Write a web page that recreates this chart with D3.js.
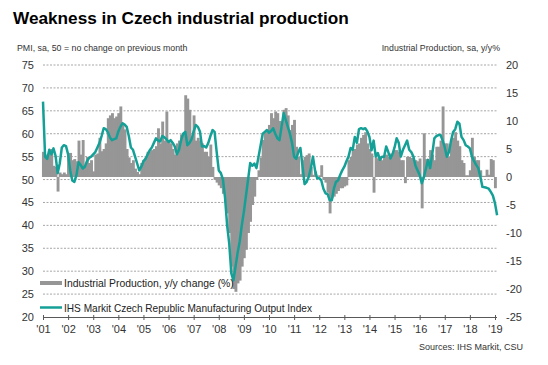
<!DOCTYPE html>
<html><head><meta charset="utf-8">
<script src="https://cdn.jsdelivr.net/npm/d3@7"></script>
<style>
body{margin:0;background:#fff;}
svg{display:block;font-family:"Liberation Sans",Arial,sans-serif;}
</style></head>
<body><svg id="c" width="548" height="365"></svg>
<script>
// ---- data (monthly, Jan 2001 onwards) ----
const tickLabels = ["'01","'02","'03","'04","'05","'06","'07","'08","'09","'10","'11","'12","'13","'14","'15","'16","'17","'18","'19"];
const leftTicks = [20,25,30,35,40,45,50,55,60,65,70,75];
const rightTicks = [-25,-20,-15,-10,-5,0,5,10,15,20];

// IHS Markit Czech Republic Manufacturing Output Index
const pmiOutput = [
  67,55,54.5,56.5,55.5,56.8,55.2,51.4,53.5,57,57.5,57.3,          // 2001
  55.5,52,49.8,49.5,51,53.8,53.2,52.4,52.8,54,54.7,55,            // 2002
  55.5,56,57,58,59.5,61.2,61,60.3,59.2,58.6,58.8,59,              // 2003
  60.5,61.5,62.3,62,61.5,59.5,57,56.5,55,53.5,52,52.8,            // 2004
  54,54.5,55.5,56.4,57,58,59,58.5,58.3,59.5,59.2,58.8,            // 2005
  58.2,58.6,58,57.2,55.5,56.5,58.6,60,60.4,57.5,58,58.8,          // 2006
  60.5,61.9,61.5,60.5,57.2,57.3,57,58,59.5,60.8,60.4,56,          // 2007
  52,51.4,50,46,40,36,29.5,28,31,34,36.5,40,                      // 2008
  43,46.5,50,53.6,53,53.5,52.5,55,57.5,60,60.4,60.8,              // 2009
  60.2,60.6,61.2,60,59,58.6,61.5,64.5,63,61.5,60,58,              // 2010
  55,54.5,56,56.9,53,49,49.5,50.6,52.5,55,52,50.3,                // 2011
  50.3,49.8,48,47,46.8,45.5,45.5,48,49.5,49.8,51,52,              // 2012
  52.8,54,55,56.9,56.5,59.3,58,61,61.2,61,61.2,60.5,              // 2013
  59.3,56.4,58.5,55,55.8,54.3,55,55,57.2,56,54.6,55.5,            // 2014
  57,59,58,55,56.5,57.5,58.5,56.5,56,55,53,52,                    // 2015
  51,49.2,50.5,52.4,54.3,52.5,55.5,59,59.5,59.7,59.7,58.5,        // 2016
  57,55,56,58.5,60.4,61,62.6,62.2,59.3,58.6,57.5,57.2,            // 2017
  56.8,55,54,53.2,52.5,50.6,48.4,48.3,48.2,48,47.3,46.5,          // 2018
  44.8,42.2                                                       // 2019
];

// Industrial Production, y/y change (%)
const industrialProduction = [
  4.5,4,3.6,4.5,5,2,1.8,-2.6,0.8,0.5,0.8,0.5,                     // 2001
  4.3,4.3,3,3.2,2.8,6.5,4,6.6,2,3.6,2.5,3,                        // 2002
  1,4,4.2,7,4.6,5,6,10.5,11,11.4,10.5,10.8,                       // 2003
  11.4,12.6,9.5,8.5,5,3.5,2.5,3,1.5,0.9,0.5,2.5,                  // 2004
  3,3.5,4.5,4.6,4.8,5,5.5,8.7,6,9.9,6.5,11.7,                     // 2005
  6.3,6,5,4,6,6.5,7.6,7.5,14.6,14,12,7,                           // 2006
  11,6.5,7,6.5,6,4.5,4.5,3.6,5.8,1.8,-0.5,-1,                     // 2007
  -1.5,-2,-3,-4.5,-6.5,-10,-16,-20,-20.5,-19,-18.5,-16,           // 2008
  -14.5,-13,-10,-8,-5,-3.5,-0.5,1.2,3.5,6.6,8,8.4,                // 2009
  9.3,11.4,10.5,11.7,11.4,10,9,12,12.3,11,8.4,9.3,                // 2010
  10.2,5.4,3.6,0.5,3,3.6,3.9,4.2,1.8,0.4,1,0,                     // 2011
  0.3,2.1,-0.5,-1,-2.8,-6.5,-3.8,-3.5,-3,-2.5,-2,-2,              // 2012
  -1.7,-1.5,3,3.6,4.8,5,5.8,6,7,7.5,8,6,                          // 2013
  5,4.2,-2.8,3.5,3.3,3.6,3,3.8,4,3.6,4.2,4,                       // 2014
  4.8,4.8,4.5,3,3,-1.1,3.6,3.6,3.4,3,3,2.8,                       // 2015
  3.3,-5.6,7.8,3.2,3,4.8,4,3,5.4,5.4,6.5,12.6,                    // 2016
  6,6,3.6,6.5,7,8,6.5,5.5,3,2.5,0.3,0.3,                          // 2017
  1.2,7,3.6,3,3,1.2,0.2,0.2,1.3,0.4,3.2,3,                        // 2018
  -2                                                              // 2019
];

// ---- chart ----
const svg = d3.select("#c");
const X0 = 43, X1 = 495, GRIDR = 497, YT = 65, YB = 317;
const x = d3.scaleLinear().domain([0, 216]).range([X0, X1]);
const yL = d3.scaleLinear().domain([20, 75]).range([YB, YT]);
const yR = d3.scaleLinear().domain([-25, 20]).range([YB, YT]);
const bw = x(1) - x(0);

// title & subtitles
svg.append("text").attr("x", 13).attr("y", 24).attr("font-size", 17.2).attr("font-weight", "bold")
  .attr("fill", "#000").text("Weakness in Czech industrial production");
svg.append("text").attr("x", 17).attr("y", 51).attr("font-size", 8.8).attr("fill", "#333")
  .text("PMI,  sa, 50 = no change on previous month");
svg.append("text").attr("x", 500).attr("y", 51).attr("font-size", 8.8).attr("fill", "#333")
  .attr("text-anchor", "end").text("Industrial Production,  sa,  y/y%");

// gridlines
svg.append("g").selectAll("line").data(leftTicks.filter(d => d > 20)).join("line")
  .attr("x1", X0).attr("x2", GRIDR).attr("y1", d => yL(d)).attr("y2", d => yL(d))
  .attr("stroke", "#a6a6a6").attr("stroke-width", 1).attr("stroke-dasharray", "2,1.5");

// bars
svg.append("g").selectAll("rect").data(industrialProduction).join("rect")
  .attr("x", (d, i) => x(i) - bw / 2)
  .attr("width", bw + 0.8)
  .attr("y", d => Math.min(yR(d), yR(0)))
  .attr("height", d => Math.abs(yR(d) - yR(0)))
  .attr("fill", "#969696");

// line
svg.append("path").datum(pmiOutput)
  .attr("d", d3.line().x((d, i) => x(i)).y(d => yL(d)))
  .attr("fill", "none").attr("stroke", "#14a096").attr("stroke-width", 2.5)
  .attr("stroke-linejoin", "round");

// x axis
const xAxis = d3.axisBottom(x).tickValues(d3.range(0, 217, 12)).tickFormat((d, i) => tickLabels[i])
  .tickSizeInner(3).tickSizeOuter(0).tickPadding(5);
const gx = svg.append("g").attr("transform", `translate(0,${YB})`).call(xAxis);
gx.select(".domain").attr("d", `M${X0},0.5H${GRIDR}`).attr("stroke", "#595959");
gx.selectAll(".tick line").attr("stroke", "#595959").attr("y1", -2).attr("y2", 3);
gx.selectAll(".tick text").attr("font-size", 11).attr("fill", "#333").attr("font-family", "Liberation Sans, Arial, sans-serif");

// left axis
const gl = svg.append("g").attr("transform", `translate(${X0 - 9},0)`)
  .call(d3.axisLeft(yL).tickValues(leftTicks).tickSize(0).tickPadding(0));
gl.select(".domain").remove();
gl.selectAll("text").attr("font-size", 11).attr("fill", "#333").attr("font-family", "Liberation Sans, Arial, sans-serif");

// right axis
const gr = svg.append("g").attr("transform", `translate(506,0)`)
  .call(d3.axisRight(yR).tickValues(rightTicks).tickSize(0).tickPadding(0).tickFormat(d3.format("d")));
gr.select(".domain").remove();
gr.selectAll("text").attr("font-size", 11).attr("fill", "#333").attr("font-family", "Liberation Sans, Arial, sans-serif")
  .text(d => d < 0 ? "-" + Math.abs(d) : d);

// legend
const lg = svg.append("g");
lg.append("rect").attr("x", 40).attr("y", 281).attr("width", 22).attr("height", 4).attr("fill", "#969696");
lg.append("text").attr("x", 64).attr("y", 287).attr("font-size", 10.4).attr("fill", "#222")
  .text("Industrial Production, y/y change (%)");
lg.append("line").attr("x1", 40).attr("x2", 62).attr("y1", 307.5).attr("y2", 307.5)
  .attr("stroke", "#14a096").attr("stroke-width", 2.5);
lg.append("text").attr("x", 64).attr("y", 311.5).attr("font-size", 10.1).attr("fill", "#222")
  .text("IHS Markit Czech Republic Manufacturing Output Index");

// source
svg.append("text").attr("x", 523).attr("y", 350).attr("font-size", 9).attr("fill", "#333")
  .attr("text-anchor", "end").text("Sources: IHS Markit,  CSU");
</script></body></html>
